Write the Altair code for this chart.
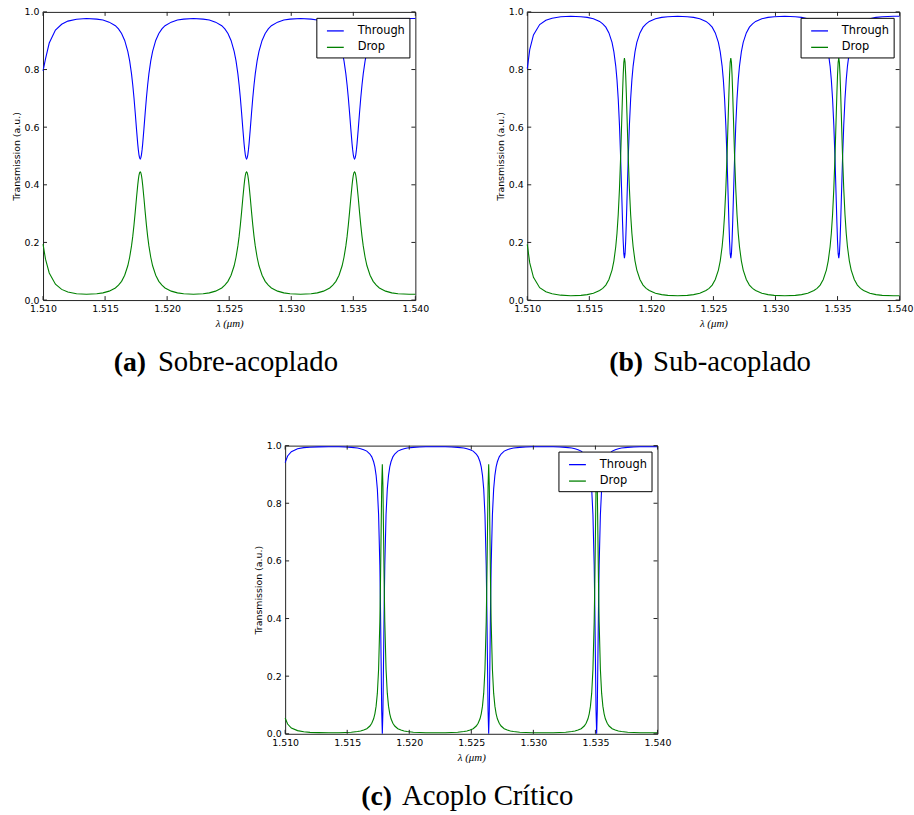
import altair as alt
import pandas as pd

# Wavelength samples (um), shared by all three panels
WAVELENGTH = [
    1.5100, 1.5102, 1.5105, 1.5110, 1.5115, 1.5120, 1.5127, 1.5135,
    1.51433, 1.51483, 1.51533, 1.51583, 1.51608, 1.51633, 1.51658, 1.51683, 1.51698, 1.51713,
    1.51723, 1.51733, 1.51743, 1.51753, 1.51763, 1.51768, 1.51773, 1.51778, 1.51783,
    1.51788, 1.51793, 1.51798, 1.51803, 1.51813, 1.51823, 1.51833, 1.51843, 1.51853,
    1.51868, 1.51883, 1.51908, 1.51933, 1.51958, 1.51983, 1.52033, 1.52083, 1.52133,
    1.52212,
    1.52290, 1.52340, 1.52390, 1.52440, 1.52465, 1.52490, 1.52515, 1.52540, 1.52555, 1.52570,
    1.52580, 1.52590, 1.52600, 1.52610, 1.52620, 1.52625, 1.52630, 1.52635, 1.52640,
    1.52645, 1.52650, 1.52655, 1.52660, 1.52670, 1.52680, 1.52690, 1.52700, 1.52710,
    1.52725, 1.52740, 1.52765, 1.52790, 1.52815, 1.52840, 1.52890, 1.52940, 1.52990,
    1.53075,
    1.53160, 1.53210, 1.53260, 1.53310, 1.53335, 1.53360, 1.53385, 1.53410, 1.53425, 1.53440,
    1.53450, 1.53460, 1.53470, 1.53480, 1.53490, 1.53495, 1.53500, 1.53505, 1.53510,
    1.53515, 1.53520, 1.53525, 1.53530, 1.53540, 1.53550, 1.53560, 1.53570, 1.53580,
    1.53595, 1.53610, 1.53635, 1.53660, 1.53685, 1.53710, 1.53760, 1.53810, 1.53860,
    1.5395, 1.5400,
]

# (a) Sobre-acoplado
THROUGH_A = [
    0.795, 0.837, 0.892, 0.937, 0.957, 0.968, 0.9745, 0.977,
    0.975, 0.972, 0.9645, 0.952, 0.941, 0.925, 0.901, 0.863, 0.830, 0.785,
    0.7465, 0.701, 0.649, 0.594, 0.542, 0.521, 0.504, 0.494, 0.490,
    0.494, 0.504, 0.521, 0.542, 0.594, 0.649, 0.701, 0.7465, 0.785,
    0.830, 0.863, 0.901, 0.925, 0.941, 0.952, 0.9645, 0.972, 0.975,
    0.977,
    0.975, 0.972, 0.9645, 0.952, 0.941, 0.925, 0.901, 0.863, 0.830, 0.785,
    0.7465, 0.701, 0.649, 0.594, 0.542, 0.521, 0.504, 0.494, 0.490,
    0.494, 0.504, 0.521, 0.542, 0.594, 0.649, 0.701, 0.7465, 0.785,
    0.830, 0.863, 0.901, 0.925, 0.941, 0.952, 0.9645, 0.972, 0.975,
    0.977,
    0.975, 0.972, 0.9645, 0.952, 0.941, 0.925, 0.901, 0.863, 0.830, 0.785,
    0.7465, 0.701, 0.649, 0.594, 0.542, 0.521, 0.504, 0.494, 0.490,
    0.494, 0.504, 0.521, 0.542, 0.594, 0.649, 0.701, 0.7465, 0.785,
    0.830, 0.863, 0.901, 0.925, 0.941, 0.952, 0.9645, 0.972, 0.975,
    0.977, 0.977,
]
DROP_A = [
    0.194, 0.142, 0.094, 0.055, 0.037, 0.028, 0.022, 0.020,
    0.0217, 0.025, 0.031, 0.042, 0.0517, 0.065, 0.086, 0.119, 0.1485, 0.188,
    0.221, 0.261, 0.306, 0.354, 0.399, 0.418, 0.433, 0.442, 0.445,
    0.442, 0.433, 0.418, 0.399, 0.354, 0.306, 0.261, 0.221, 0.188,
    0.1485, 0.119, 0.086, 0.065, 0.0517, 0.042, 0.031, 0.025, 0.0217,
    0.020,
    0.0217, 0.025, 0.031, 0.042, 0.0517, 0.065, 0.086, 0.119, 0.1485, 0.188,
    0.221, 0.261, 0.306, 0.354, 0.399, 0.418, 0.433, 0.442, 0.445,
    0.442, 0.433, 0.418, 0.399, 0.354, 0.306, 0.261, 0.221, 0.188,
    0.1485, 0.119, 0.086, 0.065, 0.0517, 0.042, 0.031, 0.025, 0.0217,
    0.020,
    0.0217, 0.025, 0.031, 0.042, 0.0517, 0.065, 0.086, 0.119, 0.1485, 0.188,
    0.221, 0.261, 0.306, 0.354, 0.399, 0.418, 0.433, 0.442, 0.445,
    0.442, 0.433, 0.418, 0.399, 0.354, 0.306, 0.261, 0.221, 0.188,
    0.1485, 0.119, 0.086, 0.065, 0.0517, 0.042, 0.031, 0.025, 0.0217,
    0.020, 0.020,
]

# (b) Sub-acoplado
THROUGH_B = [
    0.803, 0.869, 0.920, 0.956, 0.971, 0.978, 0.983, 0.985,
    0.9834, 0.981, 0.976, 0.967, 0.9587, 0.947, 0.927, 0.894, 0.861, 0.812,
    0.764, 0.698, 0.607, 0.486, 0.340, 0.267, 0.204, 0.161, 0.145,
    0.161, 0.204, 0.267, 0.340, 0.486, 0.607, 0.698, 0.764, 0.812,
    0.861, 0.894, 0.927, 0.947, 0.9587, 0.967, 0.976, 0.981, 0.9834,
    0.985,
    0.9834, 0.981, 0.976, 0.967, 0.9587, 0.947, 0.927, 0.894, 0.861, 0.812,
    0.764, 0.698, 0.607, 0.486, 0.340, 0.267, 0.204, 0.161, 0.145,
    0.161, 0.204, 0.267, 0.340, 0.486, 0.607, 0.698, 0.764, 0.812,
    0.861, 0.894, 0.927, 0.947, 0.9587, 0.967, 0.976, 0.981, 0.9834,
    0.985,
    0.9834, 0.981, 0.976, 0.967, 0.9587, 0.947, 0.927, 0.894, 0.861, 0.812,
    0.764, 0.698, 0.607, 0.486, 0.340, 0.267, 0.204, 0.161, 0.145,
    0.161, 0.204, 0.267, 0.340, 0.486, 0.607, 0.698, 0.764, 0.812,
    0.861, 0.894, 0.927, 0.947, 0.9587, 0.967, 0.976, 0.981, 0.9834,
    0.985, 0.985,
]
DROP_B = [
    0.193, 0.129, 0.079, 0.043, 0.029, 0.022, 0.017, 0.015,
    0.0163, 0.019, 0.0236, 0.033, 0.0406, 0.052, 0.0714, 0.104, 0.136, 0.185,
    0.232, 0.297, 0.386, 0.505, 0.649, 0.720, 0.782, 0.825, 0.840,
    0.825, 0.782, 0.720, 0.649, 0.505, 0.386, 0.297, 0.232, 0.185,
    0.136, 0.104, 0.0714, 0.052, 0.0406, 0.033, 0.0236, 0.019, 0.0163,
    0.015,
    0.0163, 0.019, 0.0236, 0.033, 0.0406, 0.052, 0.0714, 0.104, 0.136, 0.185,
    0.232, 0.297, 0.386, 0.505, 0.649, 0.720, 0.782, 0.825, 0.840,
    0.825, 0.782, 0.720, 0.649, 0.505, 0.386, 0.297, 0.232, 0.185,
    0.136, 0.104, 0.0714, 0.052, 0.0406, 0.033, 0.0236, 0.019, 0.0163,
    0.015,
    0.0163, 0.019, 0.0236, 0.033, 0.0406, 0.052, 0.0714, 0.104, 0.136, 0.185,
    0.232, 0.297, 0.386, 0.505, 0.649, 0.720, 0.782, 0.825, 0.840,
    0.825, 0.782, 0.720, 0.649, 0.505, 0.386, 0.297, 0.232, 0.185,
    0.136, 0.104, 0.0714, 0.052, 0.0406, 0.033, 0.0236, 0.019, 0.0163,
    0.015, 0.015,
]

# (c) Acoplo Critico
THROUGH_C = [
    0.941, 0.964, 0.979, 0.989, 0.993, 0.9945, 0.9958, 0.996,
    0.9959, 0.995, 0.994, 0.992, 0.9895, 0.986, 0.981, 0.971, 0.961, 0.944,
    0.926, 0.897, 0.849, 0.760, 0.585, 0.443, 0.261, 0.081, 0.000,
    0.081, 0.261, 0.443, 0.585, 0.760, 0.849, 0.897, 0.926, 0.944,
    0.961, 0.971, 0.981, 0.986, 0.9895, 0.992, 0.994, 0.995, 0.9959,
    0.996,
    0.9959, 0.995, 0.994, 0.992, 0.9895, 0.986, 0.981, 0.971, 0.961, 0.944,
    0.926, 0.897, 0.849, 0.760, 0.585, 0.443, 0.261, 0.081, 0.000,
    0.081, 0.261, 0.443, 0.585, 0.760, 0.849, 0.897, 0.926, 0.944,
    0.961, 0.971, 0.981, 0.986, 0.9895, 0.992, 0.994, 0.995, 0.9959,
    0.996,
    0.9959, 0.995, 0.994, 0.992, 0.9895, 0.986, 0.981, 0.971, 0.961, 0.944,
    0.926, 0.897, 0.849, 0.760, 0.585, 0.443, 0.261, 0.081, 0.000,
    0.081, 0.261, 0.443, 0.585, 0.760, 0.849, 0.897, 0.926, 0.944,
    0.961, 0.971, 0.981, 0.986, 0.9895, 0.992, 0.994, 0.995, 0.9959,
    0.996, 0.996,
]
DROP_C = [
    0.055, 0.034, 0.020, 0.011, 0.007, 0.005, 0.004, 0.0035,
    0.0038, 0.0045, 0.0056, 0.008, 0.0098, 0.013, 0.0178, 0.027, 0.0364, 0.052,
    0.0692, 0.096, 0.141, 0.224, 0.388, 0.521, 0.691, 0.859, 0.935,
    0.859, 0.691, 0.521, 0.388, 0.224, 0.141, 0.096, 0.0692, 0.052,
    0.0364, 0.027, 0.0178, 0.013, 0.0098, 0.008, 0.0056, 0.0045, 0.0038,
    0.0035,
    0.0038, 0.0045, 0.0056, 0.008, 0.0098, 0.013, 0.0178, 0.027, 0.0364, 0.052,
    0.0692, 0.096, 0.141, 0.224, 0.388, 0.521, 0.691, 0.859, 0.935,
    0.859, 0.691, 0.521, 0.388, 0.224, 0.141, 0.096, 0.0692, 0.052,
    0.0364, 0.027, 0.0178, 0.013, 0.0098, 0.008, 0.0056, 0.0045, 0.0038,
    0.0035,
    0.0038, 0.0045, 0.0056, 0.008, 0.0098, 0.013, 0.0178, 0.027, 0.0364, 0.052,
    0.0692, 0.096, 0.141, 0.224, 0.388, 0.521, 0.691, 0.859, 0.935,
    0.859, 0.691, 0.521, 0.388, 0.224, 0.141, 0.096, 0.0692, 0.052,
    0.0364, 0.027, 0.0178, 0.013, 0.0098, 0.008, 0.0056, 0.0045, 0.0038,
    0.0035, 0.0035,
]

X_TICKS = [1.510, 1.515, 1.520, 1.525, 1.530, 1.535, 1.540]
Y_TICKS = [0.0, 0.2, 0.4, 0.6, 0.8, 1.0]
SERIES = ["Through", "Drop"]
COLORS = ["#0000ff", "#008000"]
CAPTION_TAGS = ["(a)", "(b)", "(c)"]
CAPTION_TEXTS = ["Sobre-acoplado", "Sub-acoplado", "Acoplo Crítico"]

for arr in (THROUGH_A, DROP_A, THROUGH_B, DROP_B, THROUGH_C, DROP_C):
    assert len(arr) == len(WAVELENGTH), len(arr)

W, H = 376, 291
TICK = 4


def panel(through, drop, tag, text, tag_right, text_left, cap_y):
    xs = alt.Scale(domain=[1.510, 1.540], nice=False, zero=False)
    ys = alt.Scale(domain=[0.0, 1.0], nice=False, zero=False)
    x_axis = alt.Axis(title="λ (μm)", values=X_TICKS, format=".3f")
    y_axis = alt.Axis(title="Transmission (a.u.)", values=Y_TICKS, format=".1f")
    color = alt.Color(
        "series:N",
        scale=alt.Scale(domain=SERIES, range=COLORS),
        legend=alt.Legend(title=None, orient="top-right"),
    )
    x_enc = alt.X("wl:Q", scale=xs, axis=x_axis)
    y_enc = alt.Y("t:Q", scale=ys, axis=y_axis)

    df_t = pd.DataFrame({"wl": WAVELENGTH, "t": through, "series": "Through"})
    df_d = pd.DataFrame({"wl": WAVELENGTH, "t": drop, "series": "Drop"})
    line_t = alt.Chart(df_t).mark_line(strokeWidth=1.1).encode(x=x_enc, y=y_enc, color=color)
    line_d = alt.Chart(df_d).mark_line(strokeWidth=1.1).encode(x=x_enc, y=y_enc, color=color)

    xt = pd.DataFrame({"wl": X_TICKS})
    yt = pd.DataFrame({"t": Y_TICKS})
    rule = dict(color="#222222", strokeWidth=1)
    bot = alt.Chart(xt).mark_rule(**rule).encode(
        x=alt.X("wl:Q", scale=xs, axis=x_axis), y=alt.value(H), y2=alt.value(H - TICK))
    top = alt.Chart(xt).mark_rule(**rule).encode(
        x=alt.X("wl:Q", scale=xs, axis=x_axis), y=alt.value(0), y2=alt.value(TICK))
    left = alt.Chart(yt).mark_rule(**rule).encode(
        y=alt.Y("t:Q", scale=ys, axis=y_axis), x=alt.value(0), x2=alt.value(TICK))
    right = alt.Chart(yt).mark_rule(**rule).encode(
        y=alt.Y("t:Q", scale=ys, axis=y_axis), x=alt.value(W), x2=alt.value(W - TICK))

    cap = pd.DataFrame({"tag": [tag], "text": [text]})
    tag_mark = alt.Chart(cap).mark_text(
        align="right", baseline="alphabetic", font="Liberation Serif",
        fontSize=28, fontWeight="bold", color="black",
    ).encode(x=alt.value(tag_right), y=alt.value(cap_y), text="tag:N")
    text_mark = alt.Chart(cap).mark_text(
        align="left", baseline="alphabetic", font="Liberation Serif",
        fontSize=29, fontWeight="normal", color="black",
    ).encode(x=alt.value(text_left), y=alt.value(cap_y), text="text:N")

    return alt.layer(line_t, line_d, bot, top, left, right, tag_mark, text_mark).properties(
        width=W, height=H
    )


pa = panel(THROUGH_A, DROP_A, CAPTION_TAGS[0], CAPTION_TEXTS[0], 104, 116, 363)
pb = panel(THROUGH_B, DROP_B, CAPTION_TAGS[1], CAPTION_TEXTS[1], 117, 127, 363)
pc = panel(THROUGH_C, DROP_C, CAPTION_TAGS[2], CAPTION_TEXTS[2], 108, 118, 363)

row = alt.hconcat(pa, pb, spacing=65).resolve_scale(
    color="independent").resolve_legend(color="independent")

chart = alt.vconcat(row, pc, spacing=62, center=True).resolve_scale(
    color="independent").resolve_legend(color="independent").properties(
    padding={"left": 10, "top": 2, "right": 0, "bottom": 0},
    background="white",
).configure_view(
    stroke="#222222", strokeWidth=1
).configure_axis(
    grid=False, ticks=False, domain=False,
    labelFont="DejaVu Sans", labelFontSize=9.5, labelColor="black",
    labelPadding=4, titleColor="black", titleFontWeight="normal",
).configure_axisX(
    titleFont="Liberation Serif", titleFontStyle="italic", titleFontSize=11,
    titlePadding=4, labelOverlap=False, labelFlush=False, labelBound=False,
).configure_axisY(
    titleFont="DejaVu Sans", titleFontSize=9.5, titlePadding=3, labelOverlap=False,
    labelFlush=False,
).configure_legend(
    orient="top-right", offset=6, padding=3.7, symbolType="stroke", symbolSize=289,
    symbolStrokeWidth=1.3, symbolOffset=6, labelOffset=13, labelFont="DejaVu Sans",
    labelFontSize=11.5, labelColor="black", fillColor="white", strokeColor="black",
    cornerRadius=0, rowPadding=1.6,
)

chart.save("out.html", embed_options={"renderer": "svg", "actions": False})
